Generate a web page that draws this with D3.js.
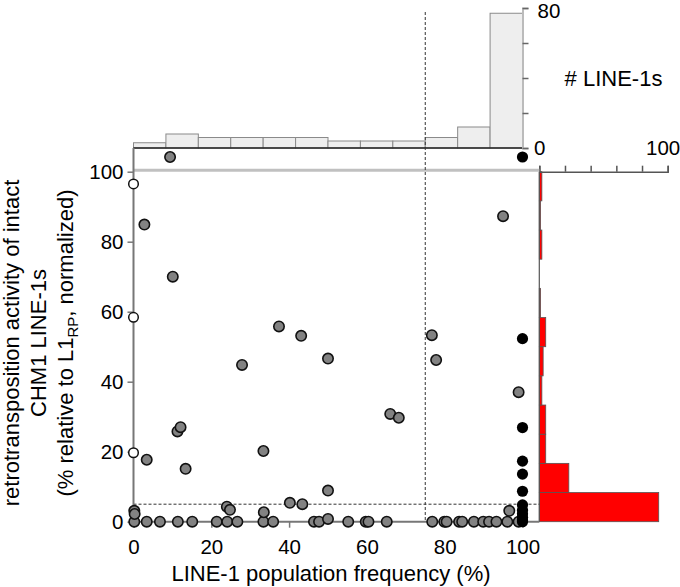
<!DOCTYPE html>
<html><head><meta charset="utf-8">
<script src="https://cdn.jsdelivr.net/npm/d3@7/dist/d3.min.js"></script>
<style>body{margin:0;background:#fff}svg{display:block}text{font-family:"Liberation Sans",Arial,sans-serif;fill:#000}</style>
</head><body>
<script>
// ---- data ----
const xTicks = [0, 20, 40, 60, 80, 100];
const yTicks = [0, 20, 40, 60, 80, 100];
const topTicks = [0, 20, 40, 60, 80];
const topTickLabels = [80];          // the "0" coincides with the right histogram's "0"
const rightTicks = [0, 20, 40, 60, 80, 100];
const rightTickLabels = [0, 100];
// histogram of population frequency (12 bins of 0-100 %)
const topCounts = [3, 8, 6, 6, 6, 6, 4, 4, 4, 6, 12, 77];
// histogram of activity (12 bins of 0-100 %), lowest bin first
const rightCounts = [93, 23, 5, 5, 2, 3, 5, 1, 0, 2, 1, 2];
// open points (frequency 0 %)
const openY = [96.5, 58.4, 19.7];
// grey points: [frequency, activity]
const greyPts = [
  [9.4, 104.2], [2.8, 84.9], [10.1, 70], [37.4, 55.8], [43.1, 53.1], [95, 87.3],
  [76.7, 53.3], [27.9, 44.8], [50, 46.6], [77.8, 46.2], [66, 30.8], [68.2, 29.7],
  [99, 37], [11.3, 25.8], [12.1, 27], [3.4, 17.7], [13.4, 15.1], [33.4, 20.2],
  [50, 8.9], [40.2, 5.4], [43.4, 5], [24, 4.3], [24.8, 3.4], [0.2, 3.1], [0.3, 2.2],
  [33.5, 2.7], [50, 0.8], [96.6, 3.1]
];
const greyZeroX = [0.2, 3.4, 6.8, 11.4, 15.1, 21.4, 24.1, 26.7, 33.4, 35.9, 46.4, 47.7,
  55.2, 59.7, 60.4, 65.1, 76.8, 79.9, 80.5, 83.7, 84.5, 87.5, 89.9, 91.4, 93.3, 96.1, 99.0];
// black points (frequency 100 %)
const blackY = [104.2, 52.3, 26.9, 17.3, 13.6, 8.7, 4.8, 3.3, 2.3, 1.3, 0.5, 0];
const freqCut = 75, actCut = 5;

// ---- drawing ----
const W = 680, H = 587;
const svg = d3.select("body").append("svg").attr("width", W).attr("height", H);
const x = d3.scaleLinear().domain([0, 100]).range([133.5, 522.5]);
const y = d3.scaleLinear().domain([0, 100]).range([521.7, 171.7]);
const topY = d3.scaleLinear().domain([0, 80]).range([148, 8]);
const rightX = d3.scaleLinear().domain([0, 100]).range([539.3, 667.7]);
const binW = 100 / 12;
const axisGrey = "#777";
const fs = "20.5px", tfs = "22px";
const ff = "Liberation Sans, Arial, sans-serif";

// top histogram
svg.append("g").selectAll("rect").data(topCounts).join("rect")
  .attr("x", (d, i) => x(i * binW)).attr("width", x(binW) - x(0))
  .attr("y", d => topY(d)).attr("height", d => topY(0) - topY(d))
  .attr("fill", "#eeeeee").attr("stroke", "#8a8a8a").attr("stroke-width", 1);
svg.append("line").attr("x1", x(0)).attr("x2", x(100)).attr("y1", topY(0)).attr("y2", topY(0))
  .attr("stroke", "#222").attr("stroke-width", 1.5);
const topAxis = svg.append("g").attr("transform", `translate(${x(100)},0)`)
  .call(d3.axisRight(topY).tickValues(topTicks).tickSize(6).tickFormat(d => topTickLabels.includes(d) ? d : ""));
topAxis.select(".domain").attr("stroke", "#bbb").attr("stroke-width", 2);
topAxis.selectAll(".tick line").attr("stroke", "#666").attr("stroke-width", 1.5);
topAxis.selectAll("text").style("font-size", fs).attr("x", 15).attr("dy", "0.45em").attr("font-family", ff);
svg.append("text").attr("x", 613.5).attr("y", 86).attr("text-anchor", "middle")
  .style("font-size", tfs).text("# LINE-1s");

// right histogram
svg.append("g").selectAll("rect").data(rightCounts).join("rect")
  .attr("x", rightX(0)).attr("width", d => rightX(d) - rightX(0))
  .attr("y", (d, i) => y((i + 1) * binW)).attr("height", y(0) - y(binW))
  .attr("fill", "#ff0000").attr("stroke", "#555").attr("stroke-width", 0.8);
const rightAxis = svg.append("g").attr("transform", `translate(0,${y(100)})`)
  .call(d3.axisTop(rightX).tickValues(rightTicks).tickSize(6).tickFormat(d => rightTickLabels.includes(d) ? d : ""));
rightAxis.select(".domain").attr("stroke", "#555").attr("stroke-width", 1.5);
rightAxis.selectAll(".tick line").attr("stroke", "#555").attr("stroke-width", 1.5);
rightAxis.selectAll("text").style("font-size", fs).attr("y", -17).attr("font-family", ff)
  .attr("text-anchor", d => d === 100 ? "end" : "middle").attr("x", d => d === 100 ? 12 : 0);
svg.append("line").attr("x1", rightX(0)).attr("x2", rightX(0)).attr("y1", y(100)).attr("y2", y(0))
  .attr("stroke", "#555").attr("stroke-width", 1.2);

// 100 % reference line
svg.append("line").attr("x1", x(0)).attr("x2", rightX(0)).attr("y1", y(100) - 1.5).attr("y2", y(100) - 1.5)
  .attr("stroke", "#c0c0c0").attr("stroke-width", 3);

// dashed cut lines
svg.append("line").attr("x1", x(freqCut)).attr("x2", x(freqCut)).attr("y1", 12).attr("y2", y(0))
  .attr("stroke", "#333").attr("stroke-width", 1).attr("stroke-dasharray", "3,2");
svg.append("line").attr("x1", x(0)).attr("x2", rightX(0)).attr("y1", y(actCut)).attr("y2", y(actCut))
  .attr("stroke", "#333").attr("stroke-width", 1).attr("stroke-dasharray", "3,2");

// axes
const xAxis = svg.append("g").attr("transform", `translate(0,${y(0)})`)
  .call(d3.axisBottom(x).tickValues(xTicks).tickSize(6).tickSizeOuter(0));
xAxis.select(".domain").attr("d", `M${x(0)},0H${rightX(0)}`).attr("stroke", axisGrey).attr("stroke-width", 2);
xAxis.selectAll(".tick line").attr("stroke", axisGrey).attr("stroke-width", 1.5);
xAxis.selectAll("text").style("font-size", fs).attr("y", 18).attr("font-family", ff);

const yAxis = svg.append("g").attr("transform", `translate(${x(0)},0)`)
  .call(d3.axisLeft(y).tickValues(yTicks).tickSize(6).tickSizeOuter(0));
yAxis.select(".domain").attr("d", `M0,${y(0)}V${topY(0)}`).attr("stroke", axisGrey).attr("stroke-width", 2);
yAxis.selectAll(".tick line").attr("stroke", axisGrey).attr("stroke-width", 1.5);
yAxis.selectAll("text").style("font-size", fs).attr("x", -10).attr("font-family", ff);

// points
const pts = svg.append("g");
pts.selectAll(".g0").data(greyZeroX).join("circle").attr("class", "g0")
  .attr("cx", d => x(d)).attr("cy", y(0)).attr("r", 5.2)
  .attr("fill", "#828282").attr("stroke", "#111").attr("stroke-width", 1.6);
pts.selectAll(".g1").data(greyPts).join("circle").attr("class", "g1")
  .attr("cx", d => x(d[0])).attr("cy", d => y(d[1])).attr("r", 5.2)
  .attr("fill", "#828282").attr("stroke", "#111").attr("stroke-width", 1.6);
pts.selectAll(".bk").data(blackY).join("circle").attr("class", "bk")
  .attr("cx", x(100)).attr("cy", d => y(d)).attr("r", 5.6).attr("fill", "#000");
pts.selectAll(".op").data(openY).join("circle").attr("class", "op")
  .attr("cx", x(0)).attr("cy", d => y(d)).attr("r", 4.8)
  .attr("fill", "#fff").attr("stroke", "#111").attr("stroke-width", 1.5);

// titles
svg.append("text").attr("x", 331).attr("y", 581).attr("text-anchor", "middle")
  .style("font-size", tfs).text("LINE-1 population frequency (%)");
const yt = svg.append("text").attr("transform", "translate(0,343) rotate(-90)")
  .attr("text-anchor", "middle").style("font-size", tfs);
yt.append("tspan").attr("x", 0).attr("y", 18.5).text("retrotransposition activity of intact");
yt.append("tspan").attr("x", 0).attr("y", 45.5).text("CHM1 LINE-1s");
const l3 = yt.append("tspan").attr("x", 0).attr("y", 73);
l3.append("tspan").text("(% relative to L1");
l3.append("tspan").attr("dy", 5).style("font-size", "15px").text("RP");
l3.append("tspan").attr("dy", -5).text(", normalized)");
</script>
</body></html>
